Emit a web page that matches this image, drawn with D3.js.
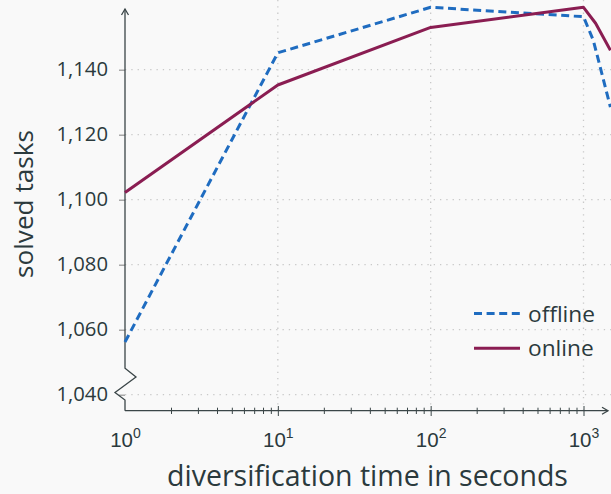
<!DOCTYPE html>
<html>
<head>
<meta charset="utf-8">
<script src="https://cdn.jsdelivr.net/npm/d3@7"></script>
<style>
  html, body { margin: 0; padding: 0; background: #f9f9f9; }
  svg { display: block; font-family: "Open Sans", sans-serif; }
</style>
</head>
<body>
<div id="chart"></div>
<script>
// values
const offlineTime = [1, 10, 100, 1000, 1160, 1500];
const offlineSolved = [1056.2, 1145.2, 1159.2, 1156.3, 1149.0, 1128.5];
const onlineTime = [1, 10, 100, 1000, 1200, 1500];
const onlineSolved = [1102.2, 1135.3, 1153.0, 1159.2, 1154.3, 1146.0];
const yTicks = [1040, 1060, 1080, 1100, 1120, 1140];
const xTicks = [1, 10, 100, 1000];
const xMinor = [2,3,4,5,6,7,8,9,20,30,40,50,60,70,80,90,200,300,400,500,600,700,800,900];
const seriesNames = ['offline', 'online'];

const W = 611, H = 494;
const textCol = '#2b3a3d', axisCol = '#3b4648', gridCol = '#c9c9c9';
const blue = '#1f6cc0', maroon = '#8a1d52';

const svg = d3.select('#chart').append('svg')
	.attr('width', W).attr('height', H);

const x = d3.scaleLog().domain([1, 1000]).range([125, 583.5]);
const y = d3.scaleLinear().domain([1040, 1140]).range([394.7, 69.7]);
const x0 = 125, yBase = 410.7, yTop = 9, xEnd = 608;

// fit a text to a target width by scaling its font size
function fit(sel, width) {
	const fs = parseFloat(sel.attr('font-size'));
	const len = sel.node().getComputedTextLength();
	sel.attr('font-size', fs * width / len);
	return sel;
}

////////////////////////////////////////////////////////////////////
// grid

const grid = svg.append('g').attr('class', 'grid');
grid.selectAll('.gh').data(yTicks).enter().append('line')
	.attr('x1', x0).attr('x2', W)
	.attr('y1', d => y(d)).attr('y2', d => y(d))
	.attr('stroke', gridCol).attr('stroke-width', 1.3)
	.attr('stroke-dasharray', '1.3,5');
grid.selectAll('.gv').data(xTicks.slice(1)).enter().append('line')
	.attr('x1', d => x(d)).attr('x2', d => x(d))
	.attr('y1', 0).attr('y2', yBase)
	.attr('stroke', gridCol).attr('stroke-width', 1.3)
	.attr('stroke-dasharray', '1.3,5');

////////////////////////////////////////////////////////////////////
// y axis

const axisY = d3.axisLeft(y).tickValues(yTicks).tickSize(6).tickPadding(11)
	.tickFormat(d3.format(','));
const gY = svg.append('g').attr('transform', `translate(${x0},0)`).call(axisY);
gY.select('.domain').remove();
gY.selectAll('.tick line').attr('stroke', '#9a9a9a').attr('stroke-width', 1.3);
gY.selectAll('.tick text')
	.attr('fill', textCol).attr('font-family', '"Open Sans", sans-serif')
	.attr('font-size', 20).attr('dy', '0.27em');
const sample = gY.select('.tick:last-of-type text');
fit(sample, 51.6);
gY.selectAll('.tick text').attr('font-size', sample.attr('font-size'));

// axis line with break
svg.append('path')
	.attr('d', `M${x0},${yBase}L${x0},400L115,392.5L136,377L${x0},368.3L${x0},${yTop}`)
	.attr('fill', 'none').attr('stroke', axisCol).attr('stroke-width', 1.3);
svg.append('path')
	.attr('d', `M${x0-3.5},${yTop+6}L${x0},${yTop}L${x0+3.5},${yTop+6}`)
	.attr('fill', 'none').attr('stroke', axisCol).attr('stroke-width', 1.3);

////////////////////////////////////////////////////////////////////
// x axis

const gXm = svg.append('g').attr('transform', `translate(0,${yBase})`)
	.call(d3.axisBottom(x).tickValues(xMinor).tickFormat(''));
gXm.select('.domain').remove();
gXm.selectAll('.tick line').attr('y1', -3).attr('y2', 3.3)
	.attr('stroke', axisCol).attr('stroke-width', 1);

const gX = svg.append('g').attr('transform', `translate(0,${yBase})`)
	.call(d3.axisBottom(x).tickValues(xTicks).tickFormat(''));
gX.select('.domain').remove();
gX.selectAll('.tick line').attr('y1', -4.7).attr('y2', 5.3)
	.attr('stroke', axisCol).attr('stroke-width', 1)
	.attr('display', d => d === 1 ? 'none' : null);
const xlab = gX.selectAll('.tick').append('text')
	.attr('y', 36.3).attr('fill', textCol).attr('text-anchor', 'middle')
	.attr('font-size', 20.5);
xlab.append('tspan').text('10');
xlab.append('tspan').attr('font-size', 14).attr('dy', -9)
	.text(d => Math.round(Math.log10(d)));

svg.append('line')
	.attr('x1', x0).attr('x2', xEnd).attr('y1', yBase).attr('y2', yBase)
	.attr('stroke', axisCol).attr('stroke-width', 1.3);
svg.append('path')
	.attr('d', `M${xEnd-6},${yBase-3.5}L${xEnd},${yBase}L${xEnd-6},${yBase+3.5}`)
	.attr('fill', 'none').attr('stroke', axisCol).attr('stroke-width', 1.3);

////////////////////////////////////////////////////////////////////
// titles

const xt = svg.append('text')
	.attr('text-anchor', 'middle').attr('x', 367.5).attr('y', 486)
	.attr('fill', textCol).attr('font-size', 28)
	.text('diversification time in seconds');
fit(xt, 401);

const yt = svg.append('text')
	.attr('text-anchor', 'middle')
	.attr('transform', 'translate(32.5,204) rotate(-90)')
	.attr('fill', textCol).attr('font-size', 28)
	.text('solved tasks');
fit(yt, 148);

////////////////////////////////////////////////////////////////////
// lines

const line = d3.line().x(d => x(d[0])).y(d => y(d[1]));
const series = [
	{name: seriesNames[0], pts: d3.zip(offlineTime, offlineSolved), color: blue, dash: '8,4.6'},
	{name: seriesNames[1], pts: d3.zip(onlineTime, onlineSolved), color: maroon, dash: null}
];

svg.selectAll('.series').data(series).enter().append('path')
	.attr('class', 'series')
	.attr('d', d => line(d.pts))
	.attr('fill', 'none')
	.attr('stroke', d => d.color)
	.attr('stroke-width', 3)
	.attr('stroke-linejoin', 'round')
	.attr('stroke-dasharray', d => d.dash);

////////////////////////////////////////////////////////////////////
// legend

const leg = svg.selectAll('.leg').data(series).enter().append('g')
	.attr('class', 'leg')
	.attr('transform', (d, i) => `translate(474,${313.5 + i * 34.8})`);
leg.append('line')
	.attr('x1', 0).attr('x2', 46)
	.attr('stroke', d => d.color).attr('stroke-width', 3)
	.attr('stroke-dasharray', d => d.dash);
const legText = leg.append('text')
	.attr('x', 54).attr('y', 8).attr('fill', textCol).attr('font-size', 21)
	.text(d => d.name);
fit(d3.select(legText.nodes()[0]), 67);
legText.attr('font-size', d3.select(legText.nodes()[0]).attr('font-size'));
</script>
</body>
</html>
